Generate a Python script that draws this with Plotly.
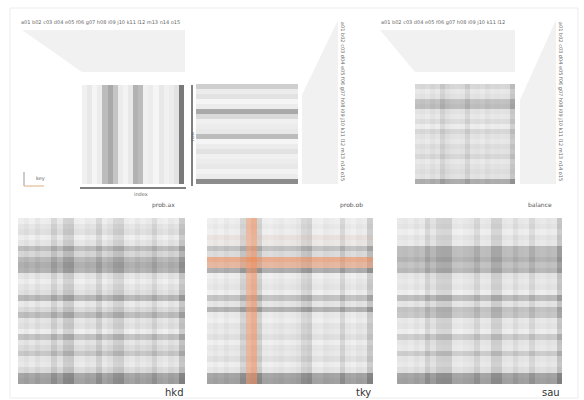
import plotly.graph_objects as go

W, H = 584, 400

# ---------------- data ----------------
panel_names = ["hkd", "tky", "sau"]
panel_subtitles = ["prob.ax", "prob.ob", "balance"]

hkd_cols = [0.15,0.25,0.1,0.3,0.15,0.2,0.6,0.25,0.7,0.75,0.15,0.1,0.25,0.2,0.6,0.15,0.3,0.6,0.65,0.2,0.1,0.3,0.15,0.25,0.55,0.2,0.1,0.3,0.2,0.85]
hkd_rows = [0.1,0.2,0.25,0.1,0.2,0.6,0.35,0.65,0.75,0.7,0.2,0.1,0.2,0.25,0.65,0.15,0.3,0.6,0.2,0.25,0.1,0.55,0.2,0.3,0.5,0.2,0.15,0.3,0.85,0.9]

tky_cols = [0.1,0.2,0.1,0.25,0.15,0.2,0.65,0.3,0.2,0.7,0.15,0.1,0.2,0.25,0.15,0.2,0.3,0.6,0.7,0.15,0.1,0.25,0.2,0.15,0.6,0.2,0.1,0.25,0.2,0.8]
tky_rows = [0.1,0.15,0.1,0.2,0.15,0.55,0.3,0.2,0.25,0.75,0.1,0.15,0.2,0.1,0.55,0.2,0.7,0.15,0.1,0.2,0.15,0.25,0.1,0.2,0.15,0.25,0.1,0.2,0.85,0.9]
tky_accent_cols = [0,0,0,0,0,0,0,0.8,0.9,0,0,0,0,0,0,0,0,0,0,0,0,0,0,0,0,0,0,0,0,0]
tky_accent_rows = [0,0,0,0.3,0.25,0,0,0.9,0.8,0,0,0,0,0,0,0,0,0,0,0,0,0,0,0,0,0,0,0,0,0]

sau_cols = [0.15,0.2,0.1,0.25,0.15,0.6,0.3,0.6,0.65,0.65,0.15,0.1,0.2,0.25,0.55,0.15,0.2,0.65,0.65,0.2,0.15,0.4,0.2,0.15,0.5,0.2,0.15,0.25,0.2,0.85]
sau_rows = [0.15,0.2,0.1,0.2,0.15,0.6,0.6,0.7,0.55,0.65,0.2,0.15,0.2,0.1,0.6,0.2,0.55,0.5,0.15,0.2,0.1,0.45,0.2,0.15,0.45,0.2,0.15,0.25,0.85,0.9]

top1_cols = [0.08,0.12,0.05,0.1,0.35,0.45,0.3,0.1,0.06,0.12,0.4,0.35,0.08,0.1,0.05,0.12,0.08,0.1,0.15,0.7]
top2_rows = [0.25,0.1,0.15,0.05,0.1,0.45,0.2,0.08,0.1,0.12,0.35,0.05,0.1,0.15,0.08,0.1,0.12,0.06,0.1,0.6]
top3_cols = [0.15,0.2,0.1,0.25,0.15,0.55,0.3,0.2,0.15,0.2,0.5,0.15,0.2,0.1,0.25,0.15,0.2,0.15,0.2,0.75]
top3_rows = [0.3,0.15,0.2,0.5,0.55,0.2,0.15,0.25,0.1,0.3,0.2,0.15,0.25,0.2,0.3,0.15,0.2,0.25,0.2,0.7]

col_codes = ["a01","b02","c03","d04","e05","f06","g07","h08","i09","j10","k11","l12","m13","n14","o15","p16","q17","r18","s19","t20"]

# ---------------- helpers ----------------
def fx(p): return p / W
def fy(p): return 1 - p / H

GREY = [[0, "#ffffff"], [1, "#3f3f3f"]]
ORANGE = [[0, "rgba(255,255,255,0)"], [1, "rgba(232,110,50,0.6)"]]

fig = go.Figure()
layout = {}

panels = [
    (82, 184, 85, 184),    # top-left vertical stripes
    (196, 298, 84, 184),   # top-middle horizontal stripes
    (415, 515, 84, 184),   # top-right tartan
    (18, 185, 218, 384),   # hkd
    (207, 373, 218, 384),  # tky
    (397, 562, 218, 384),  # sau
]

def sfx(i): return "" if i == 1 else str(i)

for i, (x0, x1, y0, y1) in enumerate(panels, start=1):
    n = 20 if i <= 3 else 30
    layout["xaxis" + sfx(i)] = dict(domain=[fx(x0), fx(x1)], visible=False, anchor="y" + sfx(i),
                                    range=[-0.5, n - 0.5], fixedrange=True)
    layout["yaxis" + sfx(i)] = dict(domain=[fy(y1), fy(y0)], visible=False, anchor="x" + sfx(i),
                                    range=[n - 0.5, -0.5], fixedrange=True)

def col_trace(i, vals, cs=GREY, opacity=1.0):
    n = len(vals)
    return go.Heatmap(z=[vals], y=[-0.5, n - 0.5], x0=0, dx=1, colorscale=cs, zmin=0, zmax=1,
                      showscale=False, opacity=opacity, xaxis="x" + sfx(i), yaxis="y" + sfx(i),
                      hoverinfo="skip")

def row_trace(i, vals, cs=GREY, opacity=1.0):
    n = len(vals)
    return go.Heatmap(z=[[v] for v in vals], x=[-0.5, n - 0.5], y0=0, dy=1, colorscale=cs,
                      zmin=0, zmax=1, showscale=False, opacity=opacity,
                      xaxis="x" + sfx(i), yaxis="y" + sfx(i), hoverinfo="skip")

fig.add_trace(col_trace(1, top1_cols))
fig.add_trace(row_trace(2, top2_rows))
fig.add_trace(col_trace(3, top3_cols, opacity=0.55))
fig.add_trace(row_trace(3, top3_rows, opacity=0.55))
fig.add_trace(col_trace(4, hkd_cols, opacity=0.5))
fig.add_trace(row_trace(4, hkd_rows, opacity=0.5))
fig.add_trace(col_trace(5, tky_cols, opacity=0.5))
fig.add_trace(row_trace(5, tky_rows, opacity=0.5))
fig.add_trace(col_trace(5, tky_accent_cols, cs=ORANGE))
fig.add_trace(row_trace(5, tky_accent_rows, cs=ORANGE))
fig.add_trace(col_trace(6, sau_cols, opacity=0.5))
fig.add_trace(row_trace(6, sau_rows, opacity=0.5))

# ---------------- decorations ----------------
def path(pts):
    return "M " + " L ".join("%f,%f" % (fx(x), fy(y)) for x, y in pts) + " Z"

shapes = [
    dict(type="rect", xref="paper", yref="paper", x0=fx(10), x1=fx(578), y0=fy(398), y1=fy(8),
         line=dict(color="#ececec", width=1), fillcolor="rgba(0,0,0,0)", layer="below"),
    dict(type="path", xref="paper", yref="paper", path=path([(22, 30), (185, 30), (185, 72), (82, 72)]),
         fillcolor="#f1f1f1", line=dict(width=0), layer="below"),
    dict(type="path", xref="paper", yref="paper", path=path([(338, 20), (338, 184), (302, 184), (302, 95)]),
         fillcolor="#f1f1f1", line=dict(width=0), layer="below"),
    dict(type="path", xref="paper", yref="paper", path=path([(380, 30), (515, 30), (515, 72), (415, 72)]),
         fillcolor="#f1f1f1", line=dict(width=0), layer="below"),
    dict(type="path", xref="paper", yref="paper", path=path([(556, 20), (556, 184), (520, 184), (520, 100)]),
         fillcolor="#f1f1f1", line=dict(width=0), layer="below"),
    dict(type="line", xref="paper", yref="paper", x0=fx(80), x1=fx(186), y0=fy(188), y1=fy(188),
         line=dict(color="#555", width=1.5)),
    dict(type="line", xref="paper", yref="paper", x0=fx(192), x1=fx(192), y0=fy(85), y1=fy(186),
         line=dict(color="#555", width=1.5)),
    dict(type="line", xref="paper", yref="paper", x0=fx(24), x1=fx(24), y0=fy(172), y1=fy(186),
         line=dict(color="#999", width=1)),
    dict(type="line", xref="paper", yref="paper", x0=fx(24), x1=fx(44), y0=fy(186), y1=fy(186),
         line=dict(color="#e0b080", width=1)),
]

annotations = []
small = dict(family="DejaVu Sans", size=5, color="#666")
annotations.append(dict(x=fx(20), y=fy(22), xref="paper", yref="paper", text=" ".join(col_codes[:15]),
                        showarrow=False, xanchor="left", yanchor="middle", font=small, borderpad=0))
annotations.append(dict(x=fx(380), y=fy(22), xref="paper", yref="paper", text=" ".join(col_codes[:12]),
                        showarrow=False, xanchor="left", yanchor="middle", font=small, borderpad=0))
side_text = " ".join(col_codes[:15])
for xp in (342, 560):
    annotations.append(dict(x=fx(xp), y=fy(101), xref="paper", yref="paper", text=side_text, showarrow=False,
                            textangle=90, xanchor="center", yanchor="middle", font=small))
annotations.append(dict(x=fx(132), y=fy(194), xref="paper", yref="paper", text="index", showarrow=False,
                        font=small))
annotations.append(dict(x=fx(187), y=fy(137), xref="paper", yref="paper", text="row", showarrow=False,
                        textangle=-90, font=small))
annotations.append(dict(x=fx(34), y=fy(178), xref="paper", yref="paper", text="key", showarrow=False,
                        font=small))

sub_x = [185, 373, 562]
for xp, t in zip(sub_x, panel_subtitles):
    annotations.append(dict(x=fx(xp - 8), y=fy(205), xref="paper", yref="paper", text=t, showarrow=False,
                            xanchor="right", yanchor="middle",
                            font=dict(family="DejaVu Sans", size=6, color="#555")))
for xp, t in zip(sub_x, panel_names):
    annotations.append(dict(x=fx(xp), y=fy(392), xref="paper", yref="paper", text=t, showarrow=False,
                            xanchor="right", yanchor="middle",
                            font=dict(family="DejaVu Sans", size=10, color="#333")))

fig.update_layout(**layout)
fig.update_layout(width=W, height=H, margin=dict(l=0, r=0, t=0, b=0),
                  paper_bgcolor="white", plot_bgcolor="white",
                  shapes=shapes, annotations=annotations, showlegend=False)

fig.write_html("out.html", config={"displayModeBar": False, "staticPlot": True},
               post_script="document.body.style.margin='0';document.body.style.overflow='hidden';")
